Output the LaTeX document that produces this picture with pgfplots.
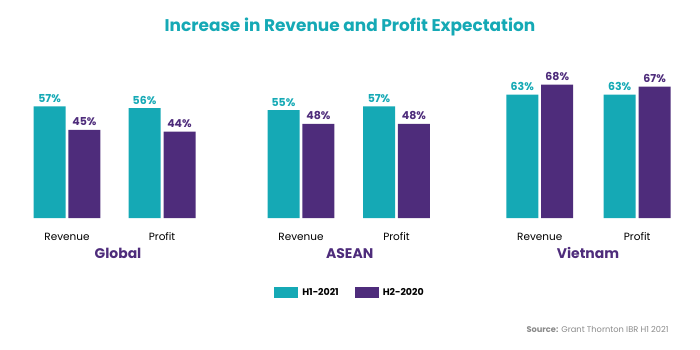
\documentclass[border=0pt]{standalone}
\usepackage{pgfplots}
\pgfplotsset{compat=1.18}
\usepackage{fontspec}
\setmainfont{Poppins}
\definecolor{tealc}{HTML}{15A9B5}
\definecolor{purp}{HTML}{4E2C7B}
\definecolor{srcgray}{HTML}{8A8A8A}
\begin{document}
\begin{tikzpicture}[x=1bp,y=1bp]
\path[use as bounding box] (0bp,0bp) rectangle (700bp,350bp);
\node[anchor=base, text=tealc, font=\fontsize{17}{20}\selectfont\bfseries] at (350bp,318bp) {Increase in Revenue and Profit Expectation};
\begin{axis}[
  at={(0bp,132bp)}, anchor=south west,
  scale only axis, width=700bp, height=178bp,
  xmin=-0.7016, xmax=6.628, ymin=0, ymax=90.8,
  axis line style={draw=none},
  ytick=\empty,
  xtick={0,0.995,2.45,3.45,4.95,5.97},
  xticklabels={Revenue,Profit,Revenue,Profit,Revenue,Profit},
  major tick length=0pt,
  xticklabel style={anchor=base, yshift=-22bp, text=black, font=\fontsize{10.5}{12}\selectfont},
  ybar, bar width=0.335,
  /pgf/number format/assume math mode=true,
  nodes near coords={\pgfmathprintnumber{\pgfplotspointmeta}\%},
  every node near coord/.append style={anchor=base, yshift=4bp, font=\fontsize{11}{12}\selectfont\bfseries},
  legend style={at={(0.5,-0.421)}, anchor=center, draw=none, legend columns=2,
    font=\fontsize{9.5}{11}\selectfont\bfseries,
    /tikz/every odd column/.append style={column sep=2bp},
    /tikz/every even column/.append style={column sep=14bp}},
  legend image code/.code={\fill[#1] (0bp,-5.5bp) rectangle (24bp,5.5bp);},
  clip=false,
]
\addplot[fill=tealc, draw=none, bar shift=-0.183, every node near coord/.append style={text=tealc}]
  coordinates {(0,57) (0.995,56) (2.45,55) (3.45,57) (4.95,63) (5.97,63)};
\addlegendentry{H1-2021}
\addplot[fill=purp, draw=none, bar shift=0.183, every node near coord/.append style={text=purp}]
  coordinates {(0,45) (0.995,44) (2.45,48) (3.45,48) (4.95,68) (5.97,67)};
\addlegendentry{H2-2020}
\node[anchor=base, text=purp, font=\fontsize{14}{16}\selectfont\bfseries, yshift=-40bp] at (axis cs:0.534,0) {Global};
\node[anchor=base, text=purp, font=\fontsize{14}{16}\selectfont\bfseries, yshift=-40bp] at (axis cs:2.96,0) {ASEAN};
\node[anchor=base, text=purp, font=\fontsize{14}{16}\selectfont\bfseries, yshift=-40bp] at (axis cs:5.455,0) {Vietnam};
\end{axis}
\node[anchor=base east, text=srcgray, font=\fontsize{8.3}{10}\selectfont] at (672bp,18bp) {\textbf{Source:} Grant Thornton IBR H1 2021};
\end{tikzpicture}
\end{document}
